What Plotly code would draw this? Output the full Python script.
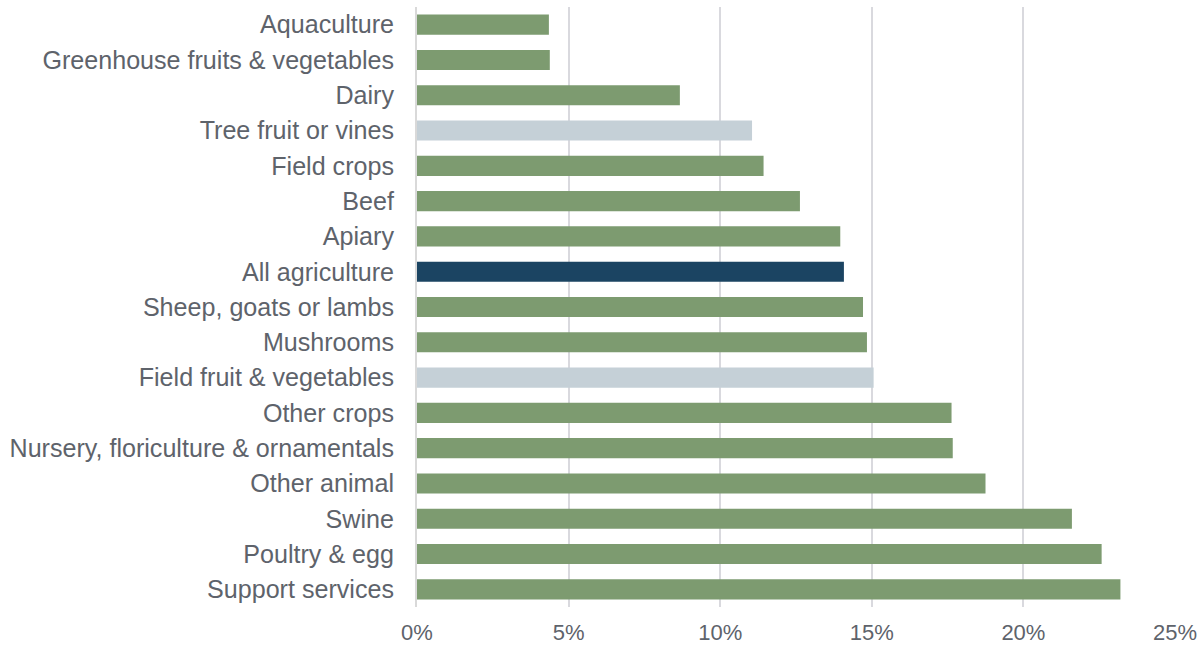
import plotly.graph_objects as go

categories = [
    "Aquaculture",
    "Greenhouse fruits & vegetables",
    "Dairy",
    "Tree fruit or vines",
    "Field crops",
    "Beef",
    "Apiary",
    "All agriculture",
    "Sheep, goats or lambs",
    "Mushrooms",
    "Field fruit & vegetables",
    "Other crops",
    "Nursery, floriculture & ornamentals",
    "Other animal",
    "Swine",
    "Poultry & egg",
    "Support services",
]
values = [4.35, 4.38, 8.67, 11.05, 11.43, 12.63, 13.96, 14.08, 14.71, 14.84,
          15.06, 17.63, 17.67, 18.75, 21.6, 22.58, 23.2]
groups = ["sector", "sector", "sector", "other", "sector", "sector", "sector",
          "total", "sector", "sector", "other", "sector", "sector", "sector",
          "sector", "sector", "sector"]

tick_vals = [0, 5, 10, 15, 20, 25]
tick_text = ["0%", "5%", "10%", "15%", "20%", "25%"]

palette = {"sector": "#7D9B70", "other": "#C5D0D7", "total": "#1B4462"}
colors = [palette[g] for g in groups]

fig = go.Figure(
    go.Bar(
        x=values,
        y=categories,
        orientation="h",
        marker=dict(color=colors, line=dict(width=0)),
        width=0.57,
    )
)

fig.update_layout(
    width=1201,
    height=645,
    margin=dict(l=417, r=26, t=7, b=38),
    paper_bgcolor="white",
    plot_bgcolor="white",
    showlegend=False,
    font=dict(family="Liberation Sans, Arial, sans-serif", color="#5E636B"),
)

fig.update_xaxes(
    range=[0, 25],
    tickvals=tick_vals,
    ticktext=tick_text,
    showgrid=True,
    gridcolor="#D9D9DE",
    gridwidth=1.5,
    zeroline=False,
    showline=False,
    ticks="",
    tickfont=dict(size=22, color="#5E636B"),
    ticklabelstandoff=10,
    automargin=False,
)

fig.update_yaxes(
    categoryorder="array",
    categoryarray=categories,
    autorange="reversed",
    showgrid=False,
    zeroline=False,
    showline=True,
    linecolor="#D9D9D9",
    linewidth=2,
    ticks="",
    tickfont=dict(size=25.1, color="#5E636B"),
    ticklabelstandoff=16,
    automargin=False,
)

fig.write_html("out.html")
